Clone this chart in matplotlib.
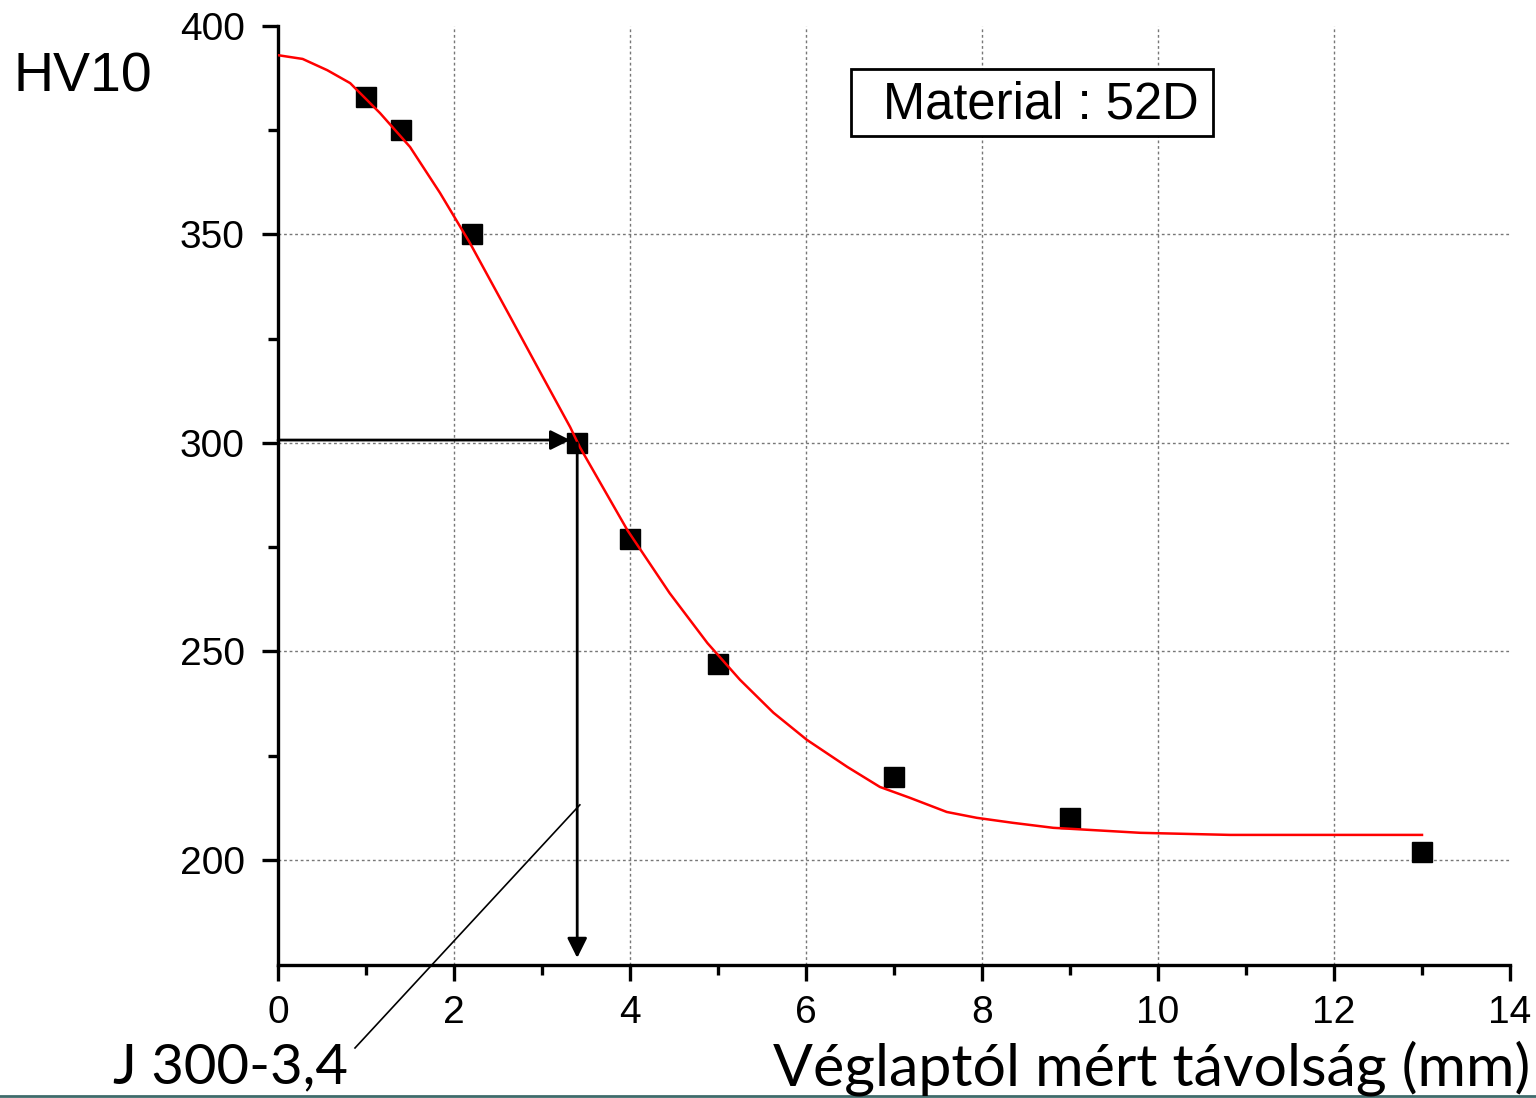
import matplotlib.pyplot as plt
from matplotlib.lines import Line2D
from matplotlib.patches import Rectangle

# mért pontok (HV10)
tav = [1.0, 1.4, 2.2, 3.4, 4.0, 5.0, 7.0, 9.0, 13.0]
kemenyseg = [383, 375, 350, 300, 277, 247, 220, 210, 202]

# illesztett görbe
gorbe_x = [0.0, 0.28, 0.56, 0.82, 1.16, 1.5, 1.84, 2.18, 2.64, 3.01, 3.32, 3.43,
           3.97, 4.45, 4.88, 5.25, 5.63, 6.01, 6.47, 6.84, 7.18, 7.6, 7.94, 8.35,
           8.81, 9.8, 10.82, 11.67, 13.0]
gorbe_y = [393.0, 392.1, 389.4, 386.3, 379.1, 371.0, 360.0, 348.0, 330.2, 315.8,
           303.8, 299.0, 279.1, 264.0, 252.0, 243.2, 235.3, 228.8, 222.3, 217.5,
           214.9, 211.5, 210.1, 208.9, 207.7, 206.5, 206.0, 206.0, 206.0]

x_ticks = [0, 2, 4, 6, 8, 10, 12, 14]
y_ticks = [200, 250, 300, 350, 400]

J_ertek = 300
J_tav = 3.4

fig = plt.figure(figsize=(15.36, 10.98), dpi=100)
ax = fig.add_axes([278 / 1536, 1 - 965 / 1098, (1510 - 278) / 1536, (965 - 26) / 1098])
ax.set_xlim(0, 14)
ax.set_ylim(174.8, 400)

# rács
for gx in x_ticks[1:-1]:
    ax.axvline(gx, color='#777777', lw=1, ls=(0, (2, 2)), zorder=0)
for gy in y_ticks[:-1]:
    ax.axhline(gy, color='#777777', lw=1, ls=(0, (2, 2)), zorder=0)

ax.plot(gorbe_x, gorbe_y, color='red', lw=1.8, zorder=3)
ax.plot(tav, kemenyseg, 's', color='black', ms=15, zorder=2)

# nyilak
ax.annotate('', xy=(J_tav - 0.08, J_ertek + 0.7), xytext=(0, J_ertek + 0.7),
            arrowprops=dict(arrowstyle='-|>', color='black', lw=2,
                            mutation_scale=30, shrinkA=0, shrinkB=0))
ax.annotate('', xy=(J_tav, 176.5), xytext=(J_tav, J_ertek),
            arrowprops=dict(arrowstyle='-|>', color='black', lw=2,
                            mutation_scale=30, shrinkA=0, shrinkB=0))
ax.add_line(Line2D([3.43, 0.875], [213.2, 154.9], color='black', lw=1.2, clip_on=False))

# anyag felirat
ax.add_patch(Rectangle((6.51, 373.6), 4.115, 16.1, facecolor='white', edgecolor='black',
                       lw=2, zorder=4))
ax.text(6.87, 381.0, 'Material : 52D', fontsize=36.5, family='Liberation Sans',
        ha='left', va='center', zorder=5)

# tengelyek
ax.spines['top'].set_visible(False)
ax.spines['right'].set_visible(False)
ax.spines['left'].set_linewidth(2.4)
ax.spines['bottom'].set_linewidth(2.4)
ax.set_xticks(x_ticks)
ax.set_yticks(y_ticks)
ax.set_xticks(range(1, 14, 2), minor=True)
ax.set_yticks([225, 275, 325, 375], minor=True)
ax.tick_params(which='major', length=11.5, width=2.4, labelsize=28)
ax.tick_params(which='minor', length=7, width=2.4)
ax.tick_params(axis='x', which='major', pad=10)
ax.tick_params(axis='y', which='major', pad=12.5)
for lab in ax.get_xticklabels() + ax.get_yticklabels():
    lab.set_family('Liberation Sans')

fig.text(14 / 1536, 1 - 78 / 1098, 'HV10', fontsize=40, family='Liberation Sans',
         ha='left', va='center')
fig.text(1530 / 1536, 1 - 1068 / 1098, 'Véglaptól mért távolság (mm)', fontsize=42.5,
         family='Lato', ha='right', va='center')
fig.text(113 / 1536, 1 - 1068 / 1098, 'J 300-3,4', fontsize=40.5, family='Lato',
         ha='left', va='center')

fig.add_artist(Line2D([0, 1], [0.002, 0.002], color='#3f6b6b', lw=2))

fig.savefig('out.png', dpi=100)
